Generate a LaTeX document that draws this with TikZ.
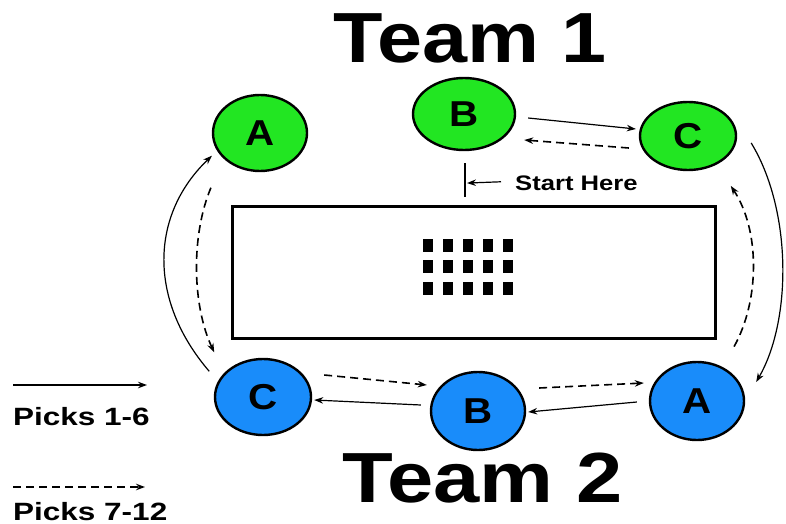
\documentclass[tikz,border=0pt]{standalone}
\usepackage{fontspec}
\setmainfont{Liberation Sans}
\usetikzlibrary{shapes.geometric,arrows.meta,calc}
\definecolor{tgreen}{RGB}{34,230,34}
\definecolor{tblue}{RGB}{25,140,250}
\begin{document}
\begin{tikzpicture}[x=1pt,y=-1pt,
  player/.style={ellipse, draw=black, line width=2.4pt, inner sep=0pt,
    font=\bfseries\fontsize{36}{36}\selectfont},
  greenp/.style={player, fill=tgreen},
  bluep/.style={player, fill=tblue},
  pick/.style={line width=1.2pt, -{Stealth[length=9pt,width=6.5pt]}},
  late/.style={pick, line width=1.6pt, dash pattern=on 8pt off 5pt},
  title/.style={anchor=base, inner sep=0pt, font=\bfseries\fontsize{71}{71}\selectfont},
  legend/.style={anchor=base west, inner sep=0pt, font=\bfseries\fontsize{25}{25}\selectfont},
  board/.style={draw=black, line width=3pt, minimum width=483pt, minimum height=132pt, inner sep=0pt},
  dot/.style={fill=black}
]
\useasboundingbox[fill=white] (0,0) rectangle (786,524);

% titles
\node[title] (t1) at (470,63) {\scalebox{1.14}[1]{Team 1}};
\node[title] (t2) at (483,502) {\scalebox{1.17}[1]{Team 2}};

% board
\node[board] (board) at (473.5,272) {};
\foreach \i in {0,...,4}{
  \foreach \y in {245,266.5,288}{
    \fill[dot] ({428+20*\i-5},{\y-6.5}) rectangle ({428+20*\i+5},{\y+6.5});
  }
}

% players
\node[greenp, minimum width=94pt, minimum height=76pt] (gA) at (260,133) {\scalebox{1.12}[1]{A}};
\node[greenp, minimum width=102pt, minimum height=72pt] (gB) at (464,114) {\scalebox{1.12}[1]{B}};
\node[greenp, minimum width=96pt, minimum height=68pt] (gC) at (688,136) {\scalebox{1.12}[1]{C}};
\node[bluep, minimum width=96pt, minimum height=76pt] (bC) at (263,397) {\scalebox{1.12}[1]{C}};
\node[bluep, minimum width=94pt, minimum height=78pt] (bB) at (478,411) {\scalebox{1.12}[1]{B}};
\node[bluep, minimum width=94pt, minimum height=78pt] (bA) at (697,401) {\scalebox{1.12}[1]{A}};

% start marker
\coordinate (sTop) at (465,163);
\coordinate (sBot) at (465,197);
\draw[line width=1.4pt] (sTop) -- (sBot);
\node[anchor=base west, inner sep=0pt, font=\bfseries\fontsize{21}{21}\selectfont] (start) at (515,190) {\scalebox{1.22}[1]{Start Here}};
\draw[pick] ($(start.west)+(-14,-1)$) -- ($(sTop)!0.59!(sBot)+(2,0)$);

% picks 1-6 (solid)
\draw[pick] ([shift={(12,4)}]gB.east) -- ([shift={(-3,-7)}]gC.west);
\draw[pick] ([shift={(14,7)}]gC.east) .. controls (792,210) and (792,320) .. ([shift={(11,-19)}]bA.east);
\draw[pick] ([shift={(-12,1)}]bA.west) -- ([shift={(2,1)}]bB.east);
\draw[pick] ([shift={(-9,-6)}]bB.west) -- ([shift={(2,3)}]bC.east);
\draw[pick] ([shift={(-19,2)}]bC.north west) .. controls (148,300) and (150,215) .. ([shift={(-14,-5)}]gA.south west);

% picks 7-12 (dashed)
\draw[late] ([shift={(-10,12)}]gC.west) -- ([shift={(8,26)}]gB.east);
\draw[late] ([shift={(3,-26)}]bA.north east) .. controls (760,300) and (760,230) .. ([shift={(8,25)}]gC.south east);
\draw[late] ([shift={(13,-23)}]bB.east) -- ([shift={(-5,-18)}]bA.west);
\draw[late] ([shift={(12,-22)}]bC.east) -- ([shift={(-3,-26)}]bB.west);
\draw[late] ([shift={(-15,27)}]gA.south west) .. controls (191,235) and (192,305) .. ([shift={(-14,-17)}]bC.north west);

% legend
\coordinate (l1a) at (13,385);
\coordinate (l1b) at (147,385);
\draw[pick] (l1a) -- (l1b);
\node[legend] (p1) at (13,425) {\scalebox{1.26}[1]{Picks 1-6}};
\coordinate (l2a) at (13,487);
\coordinate (l2b) at (145,487);
\draw[late] (l2a) -- (l2b);
\node[legend] (p2) at (13,520) {\scalebox{1.26}[1]{Picks 7-12}};
\end{tikzpicture}
\end{document}
